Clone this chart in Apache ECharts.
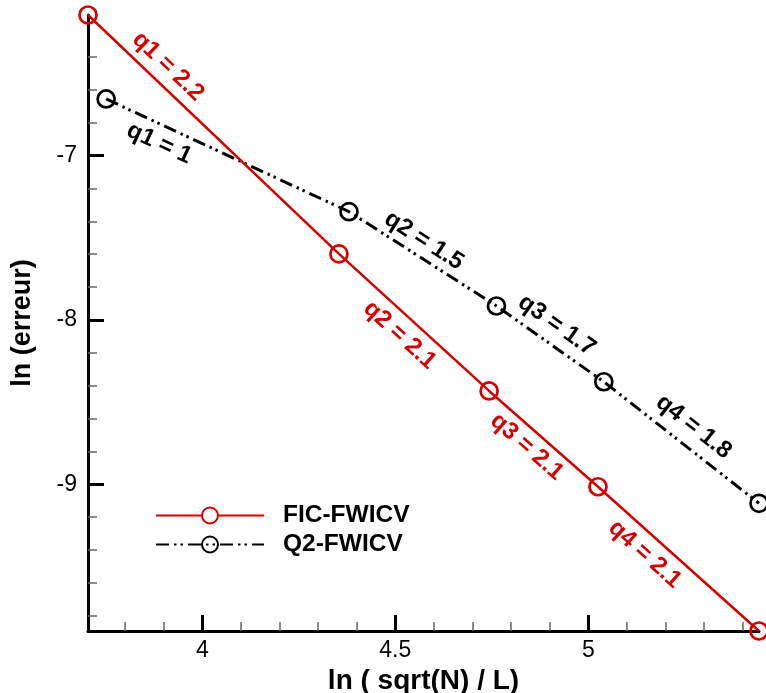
<!DOCTYPE html>
<html><head><meta charset="utf-8">
<script src="https://cdn.jsdelivr.net/npm/echarts@6/dist/echarts.min.js"></script>
<style>html,body{margin:0;padding:0;background:#fff}#c{width:766px;height:693px}</style>
</head><body><div id="c"></div>
<script>
// ---- data ----
const ficX = [3.704, 4.354, 4.743, 5.025, 5.442];
const ficY = [-6.144, -7.598, -8.432, -9.015, -9.893];
const q2X = [3.751, 4.380, 4.762, 5.040, 5.442];
const q2Y = [-6.655, -7.341, -7.915, -8.376, -9.116];
const ficOrders = ['2.2', '2.1', '2.1', '2.1'];
const q2Orders = ['1', '1.5', '1.7', '1.8'];
const xMajorTicks = [4, 4.5, 5];
const xMinorTicks = [3.8, 3.9, 4.1, 4.2, 4.3, 4.4, 4.6, 4.7, 4.8, 4.9, 5.1, 5.2, 5.3, 5.4];
const yMajorTicks = [-9, -8, -7];
const yMinorTicks = [-6.4, -6.6, -6.8, -7.2, -7.4, -7.6, -7.8, -8.2, -8.4, -8.6, -8.8, -9.2, -9.4, -9.6, -9.8];
const seriesNames = ['FIC-FWICV', 'Q2-FWICV'];

// ---- label placement (style): fraction along segment, perpendicular offset in px (+ = above line) ----
const ficLabelAt = [0.27, 0.49, 0.45, 0.37];
const ficLabelOff = [18, -19, -17, -19];
const q2LabelAt = [0.25, 0.45, 0.46, 0.50];
const q2LabelOff = [-18, 16, 19, 20];

const FONT = '"Liberation Sans", Arial, Helvetica, sans-serif';
const RED = '#d40000';
const BLACK = '#000';
const X_MIN = 3.704, X_MAX = 5.442, Y_MIN = -9.893, Y_MAX = -6.144;

function pairs(xs, ys) { return xs.map((x, i) => [x, ys[i]]); }

const chart = echarts.init(document.getElementById('c'), null, { renderer: 'canvas' });
chart.setOption({
  animation: false,
  backgroundColor: '#fff',
  grid: { left: 88, right: 7, top: 15, bottom: 62, containLabel: false, outerBoundsMode: 'none' },
  legend: {
    orient: 'vertical', left: 155, top: 503, padding: 0,
    itemWidth: 108, itemHeight: 20, itemGap: 4,
    textStyle: { fontFamily: FONT, fontWeight: 'bold', fontSize: 24.5, lineHeight: 20, color: '#000', padding: [0, 0, 0, 14] },
    data: [
      { name: seriesNames[0], itemStyle: { color: '#fff' } },
      { name: seriesNames[1] }
    ]
  },
  xAxis: [
    {
      type: 'value', min: X_MIN, max: X_MAX, position: 'bottom',
      name: 'ln ( sqrt(N) / L)', nameLocation: 'middle', nameGap: 29,
      nameTextStyle: { fontFamily: FONT, fontWeight: 'bold', fontSize: 28, color: '#000' },
      axisLine: { show: true, onZero: false, lineStyle: { color: '#000', width: 3 } },
      axisTick: { show: true, inside: true, length: 16, customValues: xMajorTicks, lineStyle: { color: '#000', width: 3 } },
      axisLabel: { show: true, customValues: xMajorTicks, margin: 8, fontFamily: FONT, fontSize: 23, color: '#000' },
      splitLine: { show: false }
    },
    {
      type: 'value', min: X_MIN, max: X_MAX, position: 'bottom',
      axisLine: { show: false, onZero: false },
      axisTick: { show: true, inside: true, length: 9, customValues: xMinorTicks, lineStyle: { color: '#666', width: 1.5 } },
      axisLabel: { show: false },
      splitLine: { show: false }
    }
  ],
  yAxis: [
    {
      type: 'value', min: Y_MIN, max: Y_MAX, position: 'left',
      name: 'ln (erreur)', nameLocation: 'middle', nameGap: 52, nameRotate: 90,
      nameTextStyle: { fontFamily: FONT, fontWeight: 'bold', fontSize: 27, color: '#000' },
      axisLine: { show: true, onZero: false, lineStyle: { color: '#000', width: 3 } },
      axisTick: { show: true, inside: true, length: 16, customValues: yMajorTicks, lineStyle: { color: '#000', width: 3 } },
      axisLabel: { show: true, customValues: yMajorTicks, margin: 11, fontFamily: FONT, fontSize: 23, color: '#000' },
      splitLine: { show: false }
    },
    {
      type: 'value', min: Y_MIN, max: Y_MAX, position: 'left',
      axisLine: { show: false, onZero: false },
      axisTick: { show: true, inside: true, length: 9, customValues: yMinorTicks, lineStyle: { color: '#666', width: 1.5 } },
      axisLabel: { show: false },
      splitLine: { show: false }
    }
  ],
  series: [
    {
      name: seriesNames[0], type: 'line', xAxisIndex: 0, yAxisIndex: 0, clip: false,
      data: pairs(ficX, ficY),
      symbol: 'circle', symbolSize: 17,
      lineStyle: { color: RED, width: 2.5 },
      itemStyle: { color: 'rgba(255,255,255,0)', borderColor: RED, borderWidth: 2.7 },
      emphasis: { disabled: true },
      z: 3
    },
    {
      name: seriesNames[1], type: 'line', xAxisIndex: 0, yAxisIndex: 0, clip: false,
      data: pairs(q2X, q2Y),
      symbol: 'circle', symbolSize: 17,
      lineStyle: { color: BLACK, width: 3, type: [13, 5, 2.5, 4, 2.5, 5], cap: 'butt' },
      itemStyle: { color: 'rgba(255,255,255,0)', borderColor: BLACK, borderWidth: 2.7 },
      emphasis: { disabled: true },
      z: 2
    }
  ]
});

// Slope labels placed along each segment via the chart's own scales
function slopeLabels(xs, ys, orders, at, off, color) {
  const els = [];
  for (let i = 0; i < orders.length; i++) {
    const a = chart.convertToPixel({ xAxisIndex: 0, yAxisIndex: 0 }, [xs[i], ys[i]]);
    const b = chart.convertToPixel({ xAxisIndex: 0, yAxisIndex: 0 }, [xs[i + 1], ys[i + 1]]);
    const dx = b[0] - a[0], dy = b[1] - a[1];
    const len = Math.sqrt(dx * dx + dy * dy);
    const nx = dy / len, ny = -dx / len; // "above" normal
    const t = at[i];
    const cx = a[0] + dx * t + nx * off[i];
    const cy = a[1] + dy * t + ny * off[i];
    els.push({
      type: 'text', x: cx, y: cy, rotation: -Math.atan2(dy, dx), z: 10, silent: true,
      style: {
        text: 'q' + (i + 1) + ' = ' + orders[i], fill: color,
        font: 'bold 24px ' + FONT, align: 'center', verticalAlign: 'middle'
      }
    });
  }
  return els;
}
chart.setOption({
  graphic: slopeLabels(ficX, ficY, ficOrders, ficLabelAt, ficLabelOff, RED)
    .concat(slopeLabels(q2X, q2Y, q2Orders, q2LabelAt, q2LabelOff, BLACK))
});
</script>
</body></html>
